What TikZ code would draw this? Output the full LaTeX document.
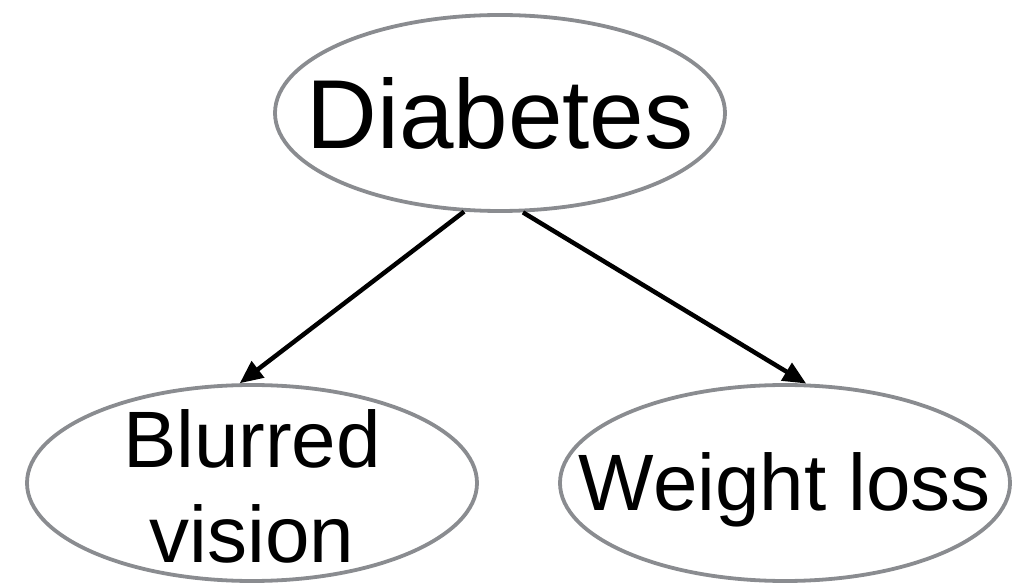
\documentclass[tikz,border=0pt]{standalone}
\usepackage{fontspec}
\setmainfont{Liberation Sans}
\usetikzlibrary{arrows.meta, positioning, shapes.geometric}
\definecolor{rim}{HTML}{8A8C90}

\begin{document}
\begin{tikzpicture}[x=1pt, y=1pt,
    var/.style={ellipse, draw=rim, line width=3.8pt, inner sep=0pt,
      minimum width=450pt, minimum height=196pt},
    word/.style={align=center, inner sep=0pt, font=\fontsize{80}{95}\selectfont},
    cause/.style={-{Triangle[length=23pt, width=20pt]}, line width=4.5pt}]
  \useasboundingbox (0,0) rectangle (1028,584);
  % Parent
  \node[var, label={[word, font=\fontsize{98}{110}\selectfont]center:Diabetes}]
    (diab) at (500,471) {};
  % Children
  \node[var, label={[word, yshift=-3pt]center:Blurred\\vision}] (blur) at (252,101) {};
  \node[var, label={[word, yshift=-7pt]center:Weight loss}] (loss) at (785,101) {};
  \draw[cause] (diab.250) -- (blur.97);
  \draw[cause] (diab.283) -- (loss.78);
\end{tikzpicture}
\end{document}
